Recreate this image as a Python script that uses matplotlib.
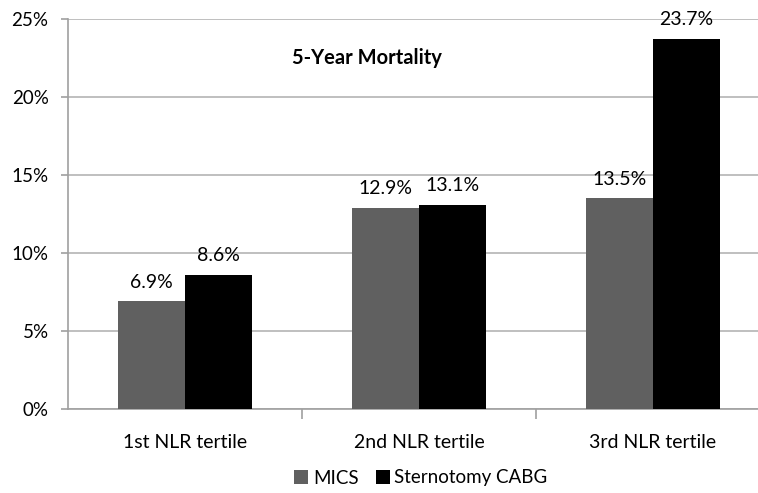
import numpy as np
import matplotlib.pyplot as plt
from matplotlib.ticker import FixedLocator, PercentFormatter

categories = ["1st NLR tertile", "2nd NLR tertile", "3rd NLR tertile"]
mics = [6.9, 12.9, 13.5]
sternotomy = [8.6, 13.1, 23.7]
series_names = ["MICS", "Sternotomy CABG"]
title = "5-Year Mortality"

plt.rcParams["font.family"] = ["Lato", "DejaVu Sans"]

fig = plt.figure(figsize=(7.58, 4.93), dpi=100)
ax = fig.add_axes([68 / 758, 0.170, 702 / 758, 0.7915])

x = np.arange(len(categories))
w = 0.287
b1 = ax.bar(x - w / 2, mics, w, color="#606060", label=series_names[0], zorder=3)
b2 = ax.bar(x + w / 2, sternotomy, w, color="#000000", label=series_names[1], zorder=3)

for bars, vals in [(b1, mics), (b2, sternotomy)]:
    for rect, v in zip(bars, vals):
        ax.annotate("{:.1f}%".format(v), (rect.get_x() + rect.get_width() / 2, v),
                    xytext=(0, 14), textcoords="offset points",
                    ha="center", va="center", fontsize=14, zorder=4)

ax.set_xlim(-0.5, len(categories) - 0.5)
ax.set_ylim(0, 25)
ax.set_yticks([0, 5, 10, 15, 20, 25])
ax.yaxis.set_major_formatter(PercentFormatter(decimals=0))
ax.grid(axis="y", color="#b4b4b4", linewidth=1.2, zorder=0)

ax.set_xticks(x)
ax.set_xticklabels(categories)
ax.xaxis.set_minor_locator(FixedLocator([0.5, 1.5]))
ax.tick_params(axis="x", which="major", length=0, pad=18, labelsize=14)
ax.tick_params(axis="x", which="minor", length=7, color="#a0a0a0", width=1.2)
ax.tick_params(axis="y", length=5, color="#a0a0a0", width=1.2, pad=9, labelsize=13.5)

for side in ["top", "right"]:
    ax.spines[side].set_visible(False)
for side in ["left", "bottom"]:
    ax.spines[side].set_color("#a0a0a0")
    ax.spines[side].set_linewidth(1.2)

ax.text(0.426, 0.9, title, transform=ax.transAxes, ha="center", va="center",
        fontsize=14.5, fontweight="bold")

fig.legend(loc="center", bbox_to_anchor=(421 / 758, 1 - 478 / 493), ncol=2,
           frameon=False, fontsize=13.5, handlelength=0.75, handleheight=0.75,
           handletextpad=0.25, columnspacing=0.9)

fig.savefig("out.png", dpi=100)
